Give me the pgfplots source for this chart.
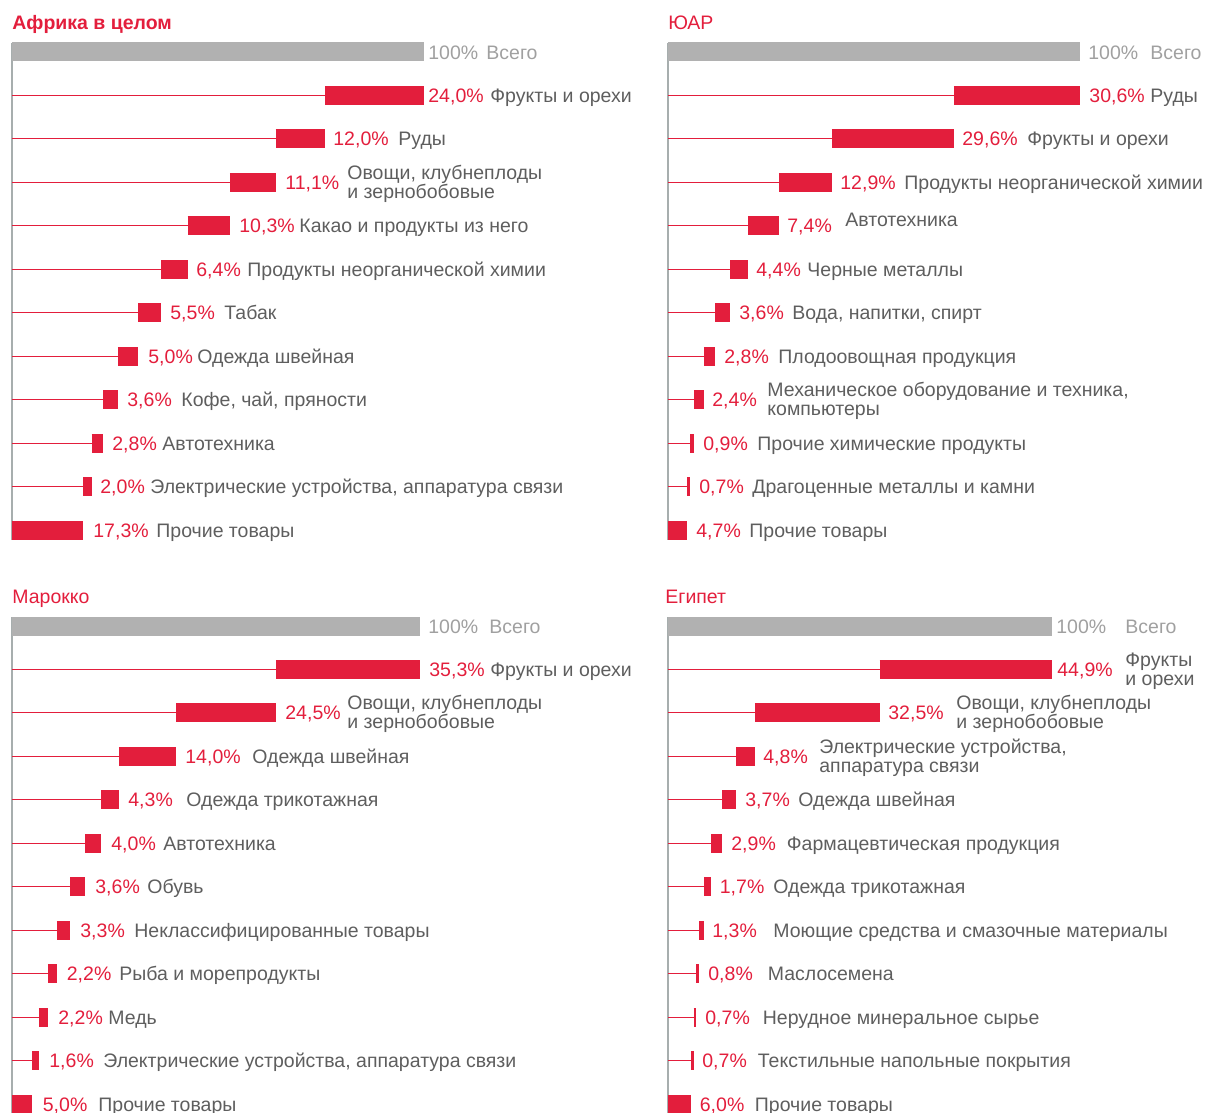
\documentclass[border=0pt]{standalone}
\usepackage{fontspec}
\setmainfont{Liberation Sans}
\usepackage{pgfplots}
\usepackage{pgfplotstable}
\pgfplotsset{compat=1.18}

\definecolor{accent}{HTML}{E31E3C}
\definecolor{totalbar}{HTML}{B1B1B1}
\definecolor{totaltxt}{HTML}{A0A0A0}
\definecolor{nametxt}{HTML}{5E5E5E}
\definecolor{axisline}{HTML}{A7AEAE}

\newcommand\lbfont{\fontsize{9.75}{9.5}\selectfont}

\tikzset{
  pct/.style={anchor=base west, inner sep=0pt, font=\lbfont, text=accent, yshift=-3.5pt},
  nm/.style={anchor=base west, inner sep=0pt, font=\lbfont, text=nametxt, yshift=-3.5pt},
  nm2/.style={anchor=base west, inner sep=0pt, font=\lbfont, text=nametxt, align=left, yshift=-8pt},
  tot/.style={anchor=base west, inner sep=0pt, font=\lbfont, text=totaltxt, yshift=-3.5pt},
  ttl/.style={anchor=base west, inner sep=0pt, font=\lbfont, text=accent},
}

% label row: row, pct offset (px from axis left), pct, name offset (px), name
\newcommand\lb[5]{%
  \node[pct, xshift=#2*0.5pt] at (axis cs:0,#1) {#3\%};
  \node[nm, xshift=#4*0.5pt] at (axis cs:0,#1) {#5};}
\newcommand\lbb[5]{%
  \node[pct, xshift=#2*0.5pt] at (axis cs:0,#1) {#3\%};
  \node[nm2, xshift=#4*0.5pt] at (axis cs:0,#1) {#5};}
\newcommand\total[2]{%
  \node[tot, xshift=#1*0.5pt] at (axis cs:0,0) {100\%};
  \node[tot, xshift=#2*0.5pt] at (axis cs:0,0) {Всего};}

% gray total bar, thin leader lines, waterfall bars
\newcommand\bars[1]{%
  \addplot[draw=totalbar, line width=9.5pt] coordinates {(0,0) (100,0)};
  \addplot[xcomb, draw=accent, line width=0.5pt] table[x=start, y=row] {#1};
  \addplot[draw=none, error bars/.cd, x dir=plus, x explicit, error mark=none,
    error bar style={draw=accent, line width=9.5pt}]
    table[x=start, y=row, x error=val] {#1};}

\pgfplotsset{panel/.style={
  scale only axis, anchor=north west, height=248.5pt,
  xmin=0, xmax=100, ymin=-0.207, ymax=11.23, y dir=reverse,
  axis x line=none, axis y line*=left, ytick=\empty,
  y axis line style={draw=axisline, line width=0.75pt},
  clip=false,
}}

\pgfplotstableread{
row start val
1 76.0 24.0
2 64.0 12.0
3 52.9 11.1
4 42.6 10.3
5 36.2 6.4
6 30.7 5.5
7 25.7 5.0
8 22.1 3.6
9 19.3 2.8
10 17.3 2.0
11 0 17.3
}\africa

\pgfplotstableread{
row start val
1 69.4 30.6
2 39.8 29.6
3 26.9 12.9
4 19.5 7.4
5 15.1 4.4
6 11.5 3.6
7 8.7 2.8
8 6.3 2.4
9 5.4 0.9
10 4.7 0.7
11 0 4.7
}\sar

\pgfplotstableread{
row start val
1 64.7 35.3
2 40.2 24.5
3 26.2 14.0
4 21.9 4.3
5 17.9 4.0
6 14.3 3.6
7 11.0 3.3
8 8.8 2.2
9 6.6 2.2
10 5.0 1.6
11 0 5.0
}\morocco

\pgfplotstableread{
row start val
1 55.1 44.9
2 22.6 32.5
3 17.8 4.8
4 14.1 3.7
5 11.2 2.9
6 9.5 1.7
7 8.2 1.3
8 7.4 0.8
9 6.7 0.7
10 6.0 0.7
11 0 6.0
}\egypt

\begin{document}
\begin{tikzpicture}
\path[use as bounding box] (0,0) rectangle (603pt,-556.5pt);

% Африка в целом
\begin{axis}[panel, at={(6pt,-21.5pt)}, width=206pt]
\bars{\africa}
\total{416}{474}
\lb{1}{416}{24,0}{478}{Фрукты и орехи}
\lb{2}{321}{12,0}{386}{Руды}
\lbb{3}{273}{11,1}{335}{Овощи, клубнеплоды\\и зернобобовые}
\lb{4}{227}{10,3}{287}{Какао и продукты из него}
\lb{5}{184}{6,4}{235}{Продукты неорганической химии}
\lb{6}{158}{5,5}{212}{Табак}
\lb{7}{136}{5,0}{185}{Одежда швейная}
\lb{8}{115}{3,6}{169}{Кофе, чай, пряности}
\lb{9}{100}{2,8}{150}{Автотехника}
\lb{10}{88}{2,0}{138}{Электрические устройства, аппаратура связи}
\lb{11}{81}{17,3}{144}{Прочие товары}
\end{axis}

% ЮАР
\begin{axis}[panel, at={(334pt,-21.5pt)}, width=206pt]
\bars{\sar}
\total{420}{482}
\lb{1}{421}{30,6}{482}{Руды}
\lb{2}{294}{29,6}{359}{Фрукты и орехи}
\lb{3}{172}{12,9}{236}{Продукты неорганической химии}
\node[pct, xshift=119*0.5pt] at (axis cs:0,4) {7,4\%};
\node[nm, xshift=177*0.5pt, yshift=3pt] at (axis cs:0,4) {Автотехника};
\lb{5}{88}{4,4}{139}{Черные металлы}
\lb{6}{71}{3,6}{124}{Вода, напитки, спирт}
\lb{7}{56}{2,8}{110}{Плодоовощная продукция}
\lbb{8}{44}{2,4}{99}{Механическое оборудование и техника,\\компьютеры}
\lb{9}{35}{0,9}{89}{Прочие химические продукты}
\lb{10}{31}{0,7}{84}{Драгоценные металлы и камни}
\lb{11}{28}{4,7}{81}{Прочие товары}
\end{axis}

% Марокко
\begin{axis}[panel, at={(6pt,-308.5pt)}, width=204pt]
\bars{\morocco}
\total{416}{477}
\lb{1}{417}{35,3}{478}{Фрукты и орехи}
\lbb{2}{273}{24,5}{335}{Овощи, клубнеплоды\\и зернобобовые}
\lb{3}{173}{14,0}{240}{Одежда швейная}
\lb{4}{116}{4,3}{174}{Одежда трикотажная}
\lb{5}{99}{4,0}{151}{Автотехника}
\lb{6}{83}{3,6}{135}{Обувь}
\lb{7}{68}{3,3}{122}{Неклассифицированные товары}
\lb{8}{54.5}{2,2}{107}{Рыба и морепродукты}
\lb{9}{46}{2,2}{96}{Медь}
\lb{10}{37}{1,6}{91}{Электрические устройства, аппаратура связи}
\lb{11}{30.5}{5,0}{86}{Прочие товары}
\end{axis}

% Египет
\begin{axis}[panel, at={(334pt,-308.5pt)}, width=192pt]
\bars{\egypt}
\total{388}{457}
\lbb{1}{389}{44,9}{457}{Фрукты\\и орехи}
\lbb{2}{220}{32,5}{288}{Овощи, клубнеплоды\\и зернобобовые}
\lbb{3}{95}{4,8}{151}{Электрические устройства,\\аппаратура связи}
\lb{4}{77}{3,7}{130}{Одежда швейная}
\lb{5}{63}{2,9}{118.5}{Фармацевтическая продукция}
\lb{6}{51.5}{1,7}{105}{Одежда трикотажная}
\lb{7}{44}{1,3}{105}{Моющие средства и смазочные материалы}
\lb{8}{40}{0,8}{99.5}{Маслосемена}
\lb{9}{37}{0,7}{94.5}{Нерудное минеральное сырье}
\lb{10}{34}{0,7}{89.5}{Текстильные напольные покрытия}
\lb{11}{31.5}{6,0}{86.5}{Прочие товары}
\end{axis}

\node[ttl, font=\lbfont\bfseries] at (6pt,-15pt) {Африка в целом};
\node[ttl] at (334pt,-14.75pt) {ЮАР};
\node[ttl] at (6pt,-301.5pt) {Марокко};
\node[ttl] at (332.5pt,-301.5pt) {Египет};
\end{tikzpicture}
\end{document}
